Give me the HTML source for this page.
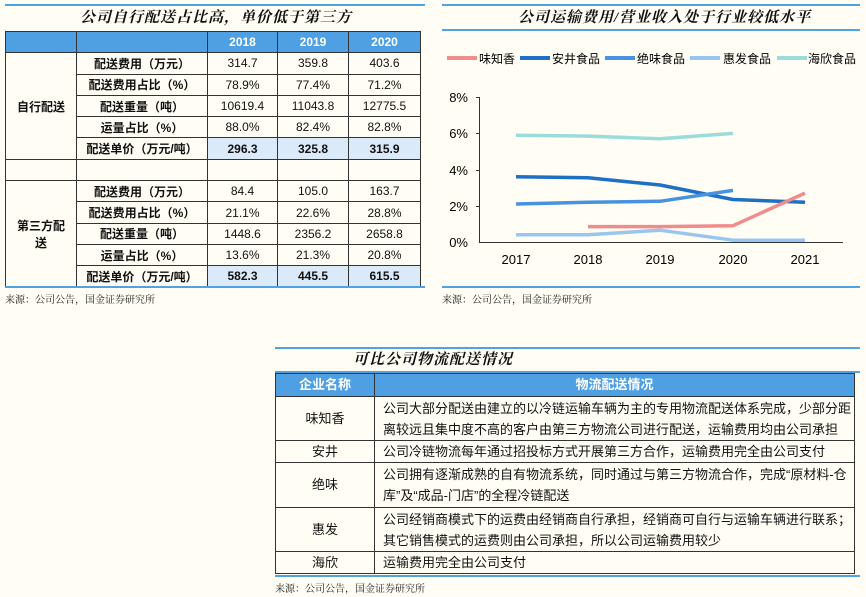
<!DOCTYPE html>
<html><head><meta charset="utf-8"><style>
*{margin:0;padding:0;box-sizing:border-box}
body{width:866px;height:597px;background:#fffdf4;position:relative;overflow:hidden;font-family:"Liberation Sans","Noto Sans CJK SC",sans-serif;color:#111}
.abs{position:absolute}
.hl{position:absolute;height:2px;background:#4fa3e0}
.title{position:absolute;font-family:"Liberation Serif","Noto Serif CJK SC",serif;font-style:italic;font-weight:bold;font-size:15px;letter-spacing:1px}
.src{position:absolute;font-family:"Liberation Serif","Noto Serif CJK SC",serif;font-size:10px;color:#222}
table{border-collapse:collapse;position:absolute;table-layout:fixed}
td{border:1px solid #333;text-align:center;font-size:12px;padding:0}
.t1 td{height:21.3px}
.hd td{background:#4f9fe3;color:#fff;font-weight:bold;border-color:#333}
.b{font-weight:bold}
.bl{background:#dbeaf8;font-weight:bold}
.t2 td{font-size:13px;line-height:20px}
.t2 .l{text-align:left;padding-left:8px}
</style></head><body>
<div class="hl" style="left:5px;top:4px;width:420px"></div>
<div class="title" style="left:80px;top:6px">公司自行配送占比高，单价低于第三方</div>
<table class="t1" style="left:5px;top:31px;width:415px">
<colgroup><col style="width:71px"><col style="width:131px"><col style="width:70px"><col style="width:71px"><col style="width:72px"></colgroup>
<tr class="hd"><td></td><td></td><td>2018</td><td>2019</td><td>2020</td></tr>
<tr><td rowspan="5" class="b">自行配送</td><td class="b">配送费用（万元）</td><td>314.7</td><td>359.8</td><td>403.6</td></tr>
<tr><td class="b">配送费用占比（%）</td><td>78.9%</td><td>77.4%</td><td>71.2%</td></tr>
<tr><td class="b">配送重量（吨）</td><td>10619.4</td><td>11043.8</td><td>12775.5</td></tr>
<tr><td class="b">运量占比（%）</td><td>88.0%</td><td>82.4%</td><td>82.8%</td></tr>
<tr><td class="b">配送单价（万元/吨）</td><td class="bl">296.3</td><td class="bl">325.8</td><td class="bl">315.9</td></tr>
<tr><td></td><td></td><td></td><td></td><td></td></tr>
<tr><td rowspan="5" class="b">第三方配<br>送</td><td class="b">配送费用（万元）</td><td>84.4</td><td>105.0</td><td>163.7</td></tr>
<tr><td class="b">配送费用占比（%）</td><td>21.1%</td><td>22.6%</td><td>28.8%</td></tr>
<tr><td class="b">配送重量（吨）</td><td>1448.6</td><td>2356.2</td><td>2658.8</td></tr>
<tr><td class="b">运量占比（%）</td><td>13.6%</td><td>21.3%</td><td>20.8%</td></tr>
<tr><td class="b">配送单价（万元/吨）</td><td class="bl">582.3</td><td class="bl">445.5</td><td class="bl">615.5</td></tr>
</table>
<div class="hl" style="left:5px;top:286px;width:420px"></div>
<div class="src" style="left:5px;top:291px">来源：公司公告，国金证券研究所</div>

<div class="hl" style="left:442px;top:4px;width:418px"></div>
<div class="title" style="left:518px;top:6px">公司运输费用/营业收入处于行业较低水平</div>
<div class="hl" style="left:442px;top:29px;width:418px"></div>
<svg class="abs" style="left:430px;top:0" width="436" height="300" font-family="Liberation Sans,Noto Sans CJK SC,sans-serif" font-size="12">
<g stroke-width="4">
<line x1="17" y1="58" x2="47" y2="58" stroke="#f08c8c"/><text x="49" y="63">味知香</text>
<line x1="90" y1="58" x2="120" y2="58" stroke="#1f6fc4"/><text x="122" y="63">安井食品</text>
<line x1="175" y1="58" x2="205" y2="58" stroke="#4793e0"/><text x="207" y="63">绝味食品</text>
<line x1="260" y1="58" x2="290" y2="58" stroke="#99c6f0"/><text x="293" y="63">惠发食品</text>
<line x1="347" y1="58" x2="377" y2="58" stroke="#9adcdc"/><text x="378" y="63">海欣食品</text>
</g>
<g stroke="#333" stroke-width="1">
<line x1="49.5" y1="97" x2="49.5" y2="242"/><line x1="49" y1="242.5" x2="413" y2="242.5"/>
<line x1="46" y1="97.5" x2="49" y2="97.5"/><line x1="46" y1="133.5" x2="49" y2="133.5"/><line x1="46" y1="170.5" x2="49" y2="170.5"/><line x1="46" y1="206.5" x2="49" y2="206.5"/>
</g>
<g text-anchor="end" font-size="13"><text x="38" y="102">8%</text><text x="38" y="138">6%</text><text x="38" y="175">4%</text><text x="38" y="211">2%</text><text x="38" y="247">0%</text></g>
<g text-anchor="middle" font-size="13"><text x="86" y="264">2017</text><text x="158" y="264">2018</text><text x="230" y="264">2019</text><text x="303" y="264">2020</text><text x="375" y="264">2021</text></g>
<g fill="none" stroke-width="3.5" stroke-linejoin="round">
<polyline stroke="#9adcdc" points="86,135.2 158,136.1 230,138.8 303,133.4"/>
<polyline stroke="#1f6fc4" points="86,176.8 158,177.8 230,185 303,199.5 375,202.2"/>
<polyline stroke="#4793e0" points="86,204 158,202.2 230,201.3 303,190.4"/>
<polyline stroke="#99c6f0" points="86,234.8 158,234.8 230,230.2 303,240.2 375,240.2"/>
<polyline stroke="#f08c8c" points="158,226.6 230,226.6 303,225.7 375,193.1"/>
</g>
</svg>
<div class="hl" style="left:442px;top:286px;width:418px"></div>
<div class="src" style="left:442px;top:291px">来源：公司公告，国金证券研究所</div>

<div class="hl" style="left:275px;top:347px;width:585px"></div>
<div class="title" style="left:353px;top:348px">可比公司物流配送情况</div>
<div class="hl" style="left:275px;top:371px;width:585px"></div>
<table class="t2" style="left:275px;top:373px;width:580px;border:1.5px solid #222">
<colgroup><col style="width:99px"><col></colgroup>
<tr class="hd"><td style="height:23px">企业名称</td><td>物流配送情况</td></tr>
<tr><td style="height:44px">味知香</td><td class="l" style="line-height:21px">公司大部分配送由建立的以冷链运输车辆为主的专用物流配送体系完成，少部分距<br>离较远且集中度不高的客户由第三方物流公司进行配送，运输费用均由公司承担</td></tr>
<tr><td style="height:22px">安井</td><td class="l">公司冷链物流每年通过招投标方式开展第三方合作，运输费用完全由公司支付</td></tr>
<tr><td style="height:45px">绝味</td><td class="l" style="line-height:21px">公司拥有逐渐成熟的自有物流系统，同时通过与第三方物流合作，完成“原材料-仓<br>库”及“成品-门店”的全程冷链配送</td></tr>
<tr><td style="height:44px">惠发</td><td class="l" style="line-height:21px">公司经销商模式下的运费由经销商自行承担，经销商可自行与运输车辆进行联系；<br>其它销售模式的运费则由公司承担，所以公司运输费用较少</td></tr>
<tr><td style="height:22px">海欣</td><td class="l">运输费用完全由公司支付</td></tr>
</table>
<div class="hl" style="left:275px;top:575px;width:585px"></div>
<div class="src" style="left:275px;top:580px">来源：公司公告，国金证券研究所</div>
</body></html>
